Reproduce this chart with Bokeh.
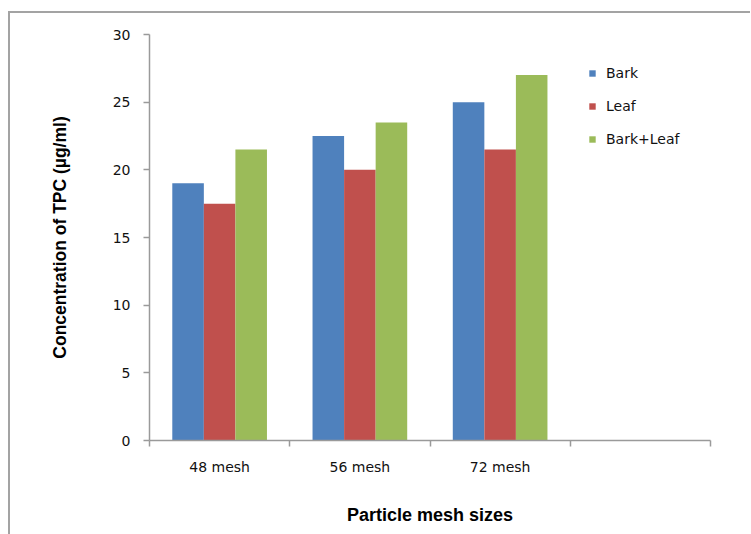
from bokeh.plotting import figure
from bokeh.models import Range1d, FixedTicker, Legend, LegendItem, ColumnDataSource
from bokeh.embed import file_html
from bokeh.resources import INLINE

# Total phenolic content by particle mesh size
categories = ["48 mesh", "56 mesh", "72 mesh"]
bark = [19.0, 22.5, 25.0]
leaf = [17.5, 20.0, 21.5]
bark_leaf = [21.5, 23.5, 27.0]
series_names = ["Bark", "Leaf", "Bark+Leaf"]
y_ticks = [0, 5, 10, 15, 20, 25, 30]

colors = ["#4F81BD", "#C0504D", "#9BBB59"]
n_slots = 4          # category slots on the x axis (last one left empty)
bar_w = 0.225        # width of one bar, in slot units

p = figure(
    width=742, height=523,
    x_range=Range1d(0, n_slots), y_range=Range1d(0, 30),
    output_backend="svg", toolbar_location=None,
    min_border_left=139, min_border_right=42,
    min_border_top=21, min_border_bottom=96,
    background_fill_color="white", border_fill_color="white",
)
p.styles = {
    "margin-left": "8px", "margin-top": "11px",
    "border-left": "2px solid #a3a3a3", "border-top": "2px solid #a3a3a3",
}
p.outline_line_color = None
p.xgrid.visible = False
p.ygrid.visible = False

renderers = []
for k, (name, vals) in enumerate(zip(series_names, [bark, leaf, bark_leaf])):
    xs = [i + 0.5 + (k - 1) * bar_w for i in range(len(categories))]
    src = ColumnDataSource(dict(x=xs, top=vals))
    r = p.vbar(x="x", top="top", bottom=0, width=bar_w, source=src,
               fill_color=colors[k], line_color=None)
    renderers.append(r)

axis_color = "#9a9a9a"
tick_font = "DejaVu Sans"

# x axis: labels at slot centres, tick marks at slot boundaries
xa = p.xaxis[0]
xa.ticker = FixedTicker(ticks=[i + 0.5 for i in range(len(categories))],
                        minor_ticks=list(range(n_slots + 1)))
xa.major_label_overrides = {i + 0.5: c for i, c in enumerate(categories)}
xa.major_tick_out = 0
xa.major_tick_in = 0
xa.minor_tick_out = 6
xa.minor_tick_in = 0
xa.minor_tick_line_color = axis_color
xa.minor_tick_line_width = 1.5
xa.axis_line_color = axis_color
xa.axis_line_width = 1.5
xa.major_label_standoff = 12
xa.major_label_text_font = tick_font
xa.major_label_text_font_size = "14px"
xa.major_label_text_color = "#111111"
xa.axis_label = "Particle mesh sizes"
xa.axis_label_text_font = "Liberation Sans"
xa.axis_label_text_font_style = "bold"
xa.axis_label_text_font_size = "18px"
xa.axis_label_text_color = "black"
xa.axis_label_standoff = 27

ya = p.yaxis[0]
ya.ticker = FixedTicker(ticks=y_ticks, minor_ticks=[])
ya.major_tick_out = 6
ya.major_tick_in = 0
ya.major_tick_line_color = axis_color
ya.major_tick_line_width = 1.5
ya.axis_line_color = axis_color
ya.axis_line_width = 1.5
ya.major_label_standoff = 13
ya.major_label_text_font = tick_font
ya.major_label_text_font_size = "14px"
ya.major_label_text_color = "#111111"
ya.axis_label = "Concentration of TPC (µg/ml)"
ya.axis_label_text_font = "Liberation Sans"
ya.axis_label_text_font_style = "bold"
ya.axis_label_text_font_size = "17.5px"
ya.axis_label_text_color = "black"
ya.axis_label_standoff = 40

legend = Legend(
    items=[LegendItem(label=n, renderers=[r]) for n, r in zip(series_names, renderers)],
    location=(439, 291),
    glyph_width=8, glyph_height=8, label_standoff=10,
    spacing=13, label_height=20, padding=0, margin=0,
    border_line_color=None, background_fill_alpha=0,
    label_text_font=tick_font, label_text_font_size="14px",
    label_text_color="#111111",
)
p.add_layout(legend)

open("out.html", "w").write(file_html(p, INLINE))
